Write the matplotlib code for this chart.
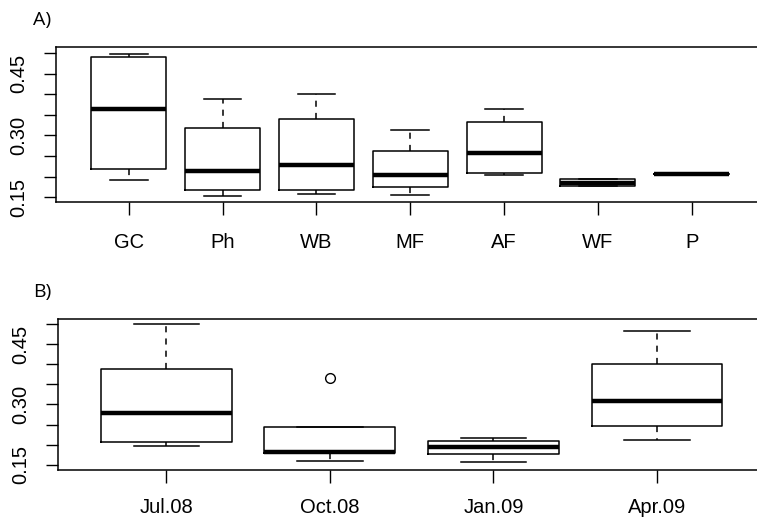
import matplotlib
matplotlib.use("Agg")
import matplotlib.pyplot as plt

plt.rcParams['font.family'] = ['Liberation Sans', 'DejaVu Sans']

# ---- Panel A data (by habitat) ----
cats_a = ["GC", "Ph", "WB", "MF", "AF", "WF", "P"]
whislo_a = [0.1919, 0.1532, 0.1589, 0.1564, 0.2047, 0.1773, 0.2063]
q1_a     = [0.2176, 0.1669, 0.1677, 0.1758, 0.2096, 0.1773, 0.2065]
med_a    = [0.3633, 0.2128, 0.2273, 0.2031, 0.2579, 0.1855, 0.2070]
q3_a     = [0.4913, 0.3174, 0.3392, 0.2611, 0.3327, 0.1935, 0.2075]
whishi_a = [0.4994, 0.3883, 0.4012, 0.3126, 0.3649, 0.1935, 0.2077]
fliers_a = [[], [], [], [], [], [], []]

# ---- Panel B data (by date) ----
cats_b = ["Jul.08", "Oct.08", "Jan.09", "Apr.09"]
whislo_b = [0.1970, 0.1583, 0.1558, 0.2119]
q1_b     = [0.2061, 0.1790, 0.1764, 0.2474]
med_b    = [0.2780, 0.1814, 0.1938, 0.3077]
q3_b     = [0.3894, 0.2441, 0.2078, 0.4018]
whishi_b = [0.5000, 0.2441, 0.2160, 0.4835]
fliers_b = [[], [0.3655], [], []]

yticks = [0.15, 0.20, 0.25, 0.30, 0.35, 0.40, 0.45, 0.50]
ytick_labels = ["0.15", "", "", "0.30", "", "", "0.45", ""]

W, H = 757, 518
fig = plt.figure(figsize=(W / 100, H / 100), dpi=100)


def make_stats(cats, lo, q1, med, q3, hi, fl):
    return [dict(label=c, whislo=a, q1=b, med=m, q3=d, whishi=e, fliers=f)
            for c, a, b, m, d, e, f in zip(cats, lo, q1, med, q3, hi, fl)]


def panel(rect, cats, stats, xlim, ylim, letter, letter_y, xpad):
    ax = fig.add_axes(rect)
    n = len(cats)
    ax.bxp(stats, positions=list(range(1, n + 1)), widths=0.8,
           capwidths=0.4, showfliers=True, patch_artist=False,
           boxprops=dict(color="black", linewidth=1.1),
           medianprops=dict(color="black", linewidth=3.2, solid_capstyle="butt"),
           whiskerprops=dict(color="black", linewidth=1.1, linestyle=(0, (4, 4))),
           capprops=dict(color="black", linewidth=1.1),
           flierprops=dict(marker="o", markersize=7, markerfacecolor="none",
                           markeredgecolor="black", markeredgewidth=1.0,
                           linestyle="none"))
    ax.set_xlim(*xlim)
    ax.set_ylim(*ylim)
    ax.set_xticks(list(range(1, n + 1)))
    ax.set_xticklabels(cats, fontsize=14.5)
    ax.set_yticks(yticks)
    ax.set_yticklabels(ytick_labels, fontsize=14.5, rotation=90, va="center")
    ax.tick_params(axis="both", length=9, width=1.0, direction="out", color="black")
    ax.tick_params(axis="x", pad=xpad)
    ax.tick_params(axis="y", pad=11)
    for s in ax.spines.values():
        s.set_linewidth(1.1)
        s.set_color("black")
    fig.text(33 / W, 1 - letter_y / H, letter, fontsize=14, family="Open Sans",
             ha="left", va="center")
    return ax


stats_a = make_stats(cats_a, whislo_a, q1_a, med_a, q3_a, whishi_a, fliers_a)
stats_b = make_stats(cats_b, whislo_b, q1_b, med_b, q3_b, whishi_b, fliers_b)

# Top panel: left 55.7px, top 47.3px, bottom 202.3px, right beyond edge
panel([55.7 / W, 1 - 202.3 / H, (764.8 - 55.7) / W, (202.3 - 47.3) / H],
      cats_a, stats_a, (0.22, 7.78), (0.1375, 0.5145), "A)", 20, 13)
# Bottom panel
panel([58.3 / W, 1 - 470 / H, (765 - 58.3) / W, (470 - 319.3) / H],
      cats_b, stats_b, (0.34, 4.66), (0.1365, 0.5125), "B)", 292, 11)

fig.savefig("out.png", dpi=100)
